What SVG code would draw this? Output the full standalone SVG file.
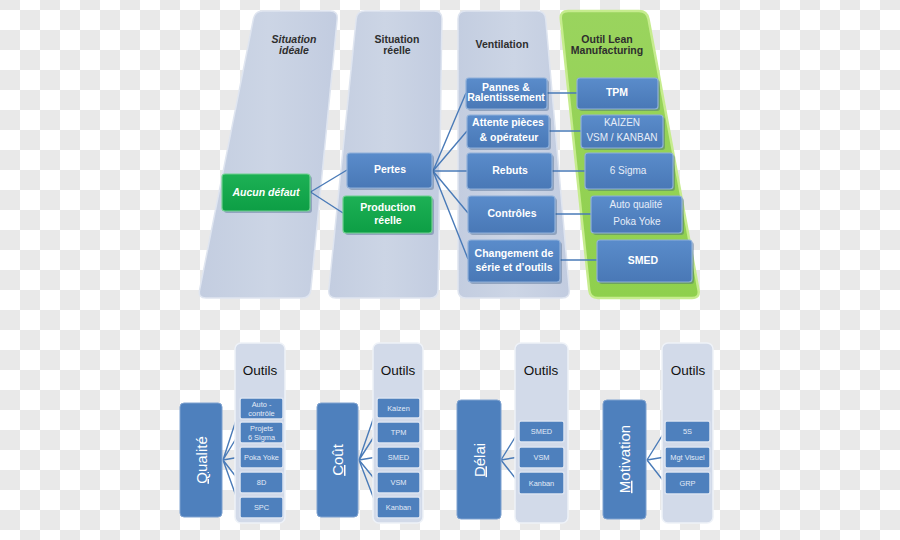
<svg xmlns="http://www.w3.org/2000/svg" width="900" height="540" viewBox="0 0 900 540">
<defs>
<pattern id="chk" patternUnits="userSpaceOnUse" x="0" y="10" width="40" height="40">
<rect width="40" height="40" fill="#ffffff"/>
<rect x="20" y="0" width="20" height="20" fill="#e9e9e9"/>
<rect x="0" y="20" width="20" height="20" fill="#e9e9e9"/>
</pattern>
<linearGradient id="colG" x1="0" y1="0" x2="1" y2="0">
<stop offset="0" stop-color="#c3cde0"/>
<stop offset="0.5" stop-color="#ccd5e5"/>
<stop offset="1" stop-color="#c2cce0"/>
</linearGradient>
<linearGradient id="greenCol" x1="0" y1="0" x2="0" y2="1">
<stop offset="0" stop-color="#9ad45e"/>
<stop offset="1" stop-color="#8fd04d"/>
</linearGradient>
<linearGradient id="blueBox" x1="0" y1="0" x2="0" y2="1">
<stop offset="0" stop-color="#5a8ccb"/>
<stop offset="1" stop-color="#4978b6"/>
</linearGradient>
<linearGradient id="greenBox" x1="0" y1="0" x2="0" y2="1">
<stop offset="0" stop-color="#1db155"/>
<stop offset="1" stop-color="#0d9e45"/>
</linearGradient>
</defs>
<style>
.col{fill:url(#colG);stroke:#dfe5f0;stroke-width:1.5}
.gcol{fill:url(#greenCol);stroke:#c6ec8e;stroke-width:2.5}
.ttl{font-family:"Liberation Sans",Arial,sans-serif;font-weight:bold;font-size:10.5px;fill:#2e2e2e;text-anchor:middle}
.bb{fill:url(#blueBox);stroke:#8fb0da;stroke-width:1.2}
.gb{fill:url(#greenBox);stroke:#6fd08f;stroke-width:1.2}
.sh{fill:#2f4f7a;opacity:0.35}
.bt{font-family:"Liberation Sans",Arial,sans-serif;font-weight:bold;font-size:10.5px;fill:#ffffff;text-anchor:middle}
.lt{font-family:"Liberation Sans",Arial,sans-serif;font-size:10px;fill:#e6edf8;text-anchor:middle}
.cn{stroke:#4a7bb8;stroke-width:1.4;fill:none}
.ocol{fill:#d2dae9;stroke:#eef2f8;stroke-width:1.5}
.tall{fill:#4e80bd;stroke:#7fa2d0;stroke-width:1}
.sb{fill:#4e80bd;stroke:#dce4f1;stroke-width:1.5}
.st{font-family:"Liberation Sans",Arial,sans-serif;font-size:7.4px;fill:#e3ebf7;text-anchor:middle}
.ot{font-family:"Liberation Sans",Arial,sans-serif;font-size:13.5px;fill:#111111;text-anchor:middle}
.rt{font-family:"Liberation Sans",Arial,sans-serif;font-size:15px;fill:#ffffff;text-anchor:middle}
</style>
<rect width="900" height="540" fill="url(#chk)"/>

<g id="columns">
<path id="col-ideale" class="col" d="M263,11 L330,11 Q338,11 337.2,19 L310.8,290 Q310,298 302,298 L206,298 Q198,298 199.6,290 L253.4,19 Q255,11 263,11 Z"/>
<path id="col-reelle" class="col" d="M365,11 L434,11 Q442,11 441.9,19 L438.1,290 Q438,298 430,298 L336,298 Q328,298 328.8,290 L356.2,19 Q357,11 365,11 Z"/>
<path id="col-vent" class="col" d="M466,11 L537,11 Q545,11 545.7,19 L569.3,290 Q570,298 562,298 L466,298 Q458,298 458,290 L458,19 Q458,11 466,11 Z"/>
<path id="col-lean" class="gcol" d="M568,11 L639,11 Q647,11 648.5,19 L698.5,290 Q700,298 692,298 L598,298 Q590,298 589.2,290 L560.8,19 Q560,11 568,11 Z"/>
<text class="ttl" x="294" y="43" font-style="italic">Situation</text>
<text class="ttl" x="294" y="54" font-style="italic">idéale</text>
<text class="ttl" x="397" y="43">Situation</text>
<text class="ttl" x="397" y="54">réelle</text>
<text class="ttl" x="502" y="48">Ventilation</text>
<text class="ttl" x="607" y="43">Outil Lean</text>
<text class="ttl" x="607" y="54">Manufacturing</text>
</g>

<g id="connectors">
<path class="cn" d="M310.5,192 L347,170 M310.5,192 L343,213"/>
<path class="cn" d="M433,171 L466,93 M433,171 L467,131 M433,171 L467,171 M433,171 L468,213 M433,171 L468,259"/>
<path class="cn" d="M547,93 L577,93 M549,131 L581,131 M552,171 L585,171 M555,214 L591,214 M560,260 L597,260"/>
<path class="cn" d="M223,460 L240,408 M223,460 L240,432 M223,460 L240,457 M223,460 L240,482 M223,460 L240,507"/>
<path class="cn" d="M359,460 L377,408 M359,460 L377,432 M359,460 L377,457 M359,460 L377,482 M359,460 L377,507"/>
<path class="cn" d="M501,460 L519,431 M501,460 L519,457 M501,460 L519,483"/>
<path class="cn" d="M647,460 L665,431 M647,460 L665,457 M647,460 L665,483"/>
</g>

<g id="aucun-defaut">
<rect class="sh" x="224" y="176" width="88" height="37" rx="3"/>
<rect class="gb" x="222" y="174" width="88" height="37" rx="3"/>
<text class="bt" x="266" y="195.5" font-style="italic" font-size="11">Aucun défaut</text>
</g>
<g id="pertes">
<rect class="sh" x="349" y="155" width="85" height="35" rx="3"/>
<rect class="bb" x="347" y="153" width="85" height="35" rx="3"/>
<text class="bt" x="390" y="173">Pertes</text>
</g>
<g id="production-reelle">
<rect class="sh" x="345" y="198" width="89" height="37" rx="3"/>
<rect class="gb" x="343" y="196" width="89" height="37" rx="3"/>
<text class="bt" x="388" y="210.5" font-size="11">Production</text>
<text class="bt" x="388" y="223.5" font-size="11">réelle</text>
</g>

<g id="pannes">
<rect class="sh" x="468" y="80" width="81" height="31" rx="3"/>
<rect class="bb" x="466" y="78" width="81" height="31" rx="3"/>
<text class="bt" x="506" y="90.5" font-size="9.8">Pannes &amp;</text>
<text class="bt" x="506" y="101" font-size="9.8">Ralentissement</text>
</g>
<g id="attente">
<rect class="sh" x="469" y="117" width="82" height="33" rx="3"/>
<rect class="bb" x="467" y="115" width="82" height="33" rx="3"/>
<text class="bt" x="508" y="126" font-size="10">Attente pièces</text>
<text class="bt" x="509" y="140.5" font-size="10">&amp; opérateur</text>
</g>
<g id="rebuts">
<rect class="sh" x="469" y="155" width="85" height="36" rx="3"/>
<rect class="bb" x="467" y="153" width="85" height="36" rx="3"/>
<text class="bt" x="510" y="173.5">Rebuts</text>
</g>
<g id="controles">
<rect class="sh" x="470" y="198" width="87" height="37" rx="3"/>
<rect class="bb" x="468" y="196" width="87" height="37" rx="3"/>
<text class="bt" x="512" y="216.5" font-size="11">Contrôles</text>
</g>
<g id="changement">
<rect class="sh" x="470" y="242" width="92" height="42" rx="3"/>
<rect class="bb" x="468" y="240" width="92" height="42" rx="3"/>
<text class="bt" x="514" y="256.5" font-size="11">Changement de</text>
<text class="bt" x="514" y="270.5" font-size="11">série et d’outils</text>
</g>

<g id="tpm">
<rect class="sh" x="579" y="80" width="81" height="31" rx="3"/>
<rect class="bb" x="577" y="78" width="81" height="31" rx="3"/>
<text class="bt" x="617" y="96" font-size="10">TPM</text>
</g>
<g id="kaizen">
<rect class="sh" x="583" y="117" width="82" height="33" rx="3"/>
<rect class="bb" x="581" y="115" width="82" height="33" rx="3"/>
<text class="lt" x="622" y="125.5">KAIZEN</text>
<text class="lt" x="622" y="140.5">VSM / KANBAN</text>
</g>
<g id="sigma">
<rect class="sh" x="587" y="155" width="88" height="36" rx="3"/>
<rect class="bb" x="585" y="153" width="88" height="36" rx="3"/>
<text class="lt" x="628" y="173.5">6 Sigma</text>
</g>
<g id="autoqualite">
<rect class="sh" x="593" y="198" width="91" height="37" rx="3"/>
<rect class="bb" x="591" y="196" width="91" height="37" rx="3"/>
<text class="lt" x="636" y="208">Auto qualité</text>
<text class="lt" x="637" y="224.5">Poka Yoke</text>
</g>
<g id="smed">
<rect class="sh" x="599" y="242" width="95" height="42" rx="3"/>
<rect class="bb" x="597" y="240" width="95" height="42" rx="3"/>
<text class="bt" x="643" y="263.5" font-size="10.5">SMED</text>
</g>

<g id="qualite-panel">
<rect class="ocol" x="235" y="343" width="50" height="180" rx="6"/>
<text class="ot" x="260" y="375">Outils</text>
<rect class="tall" x="180" y="403" width="42" height="114" rx="4"/>
<text class="rt" transform="translate(201,460) rotate(-90)" x="0" y="5.5"><tspan text-decoration="underline">Q</tspan>ualité</text>
<rect class="sb" x="240" y="398" width="43" height="21" rx="2"/>
<text class="st" x="261.5" y="406.5">Auto -</text>
<text class="st" x="261.5" y="415.5">contrôle</text>
<rect class="sb" x="240" y="422" width="43" height="21" rx="2"/>
<text class="st" x="261.5" y="430.5">Projets</text>
<text class="st" x="261.5" y="439.5">6 Sigma</text>
<rect class="sb" x="240" y="447" width="43" height="21" rx="2"/>
<text class="st" x="261.5" y="460">Poka Yoke</text>
<rect class="sb" x="240" y="472" width="43" height="21" rx="2"/>
<text class="st" x="261.5" y="485">8D</text>
<rect class="sb" x="240" y="497" width="43" height="21" rx="2"/>
<text class="st" x="261.5" y="510">SPC</text>
</g>

<g id="cout-panel">
<rect class="ocol" x="373" y="343" width="50" height="180" rx="6"/>
<text class="ot" x="398" y="375">Outils</text>
<rect class="tall" x="317" y="403" width="41" height="114" rx="4"/>
<text class="rt" transform="translate(337.5,460) rotate(-90)" x="0" y="5.5"><tspan text-decoration="underline">C</tspan>oût</text>
<rect class="sb" x="377" y="398" width="43" height="20" rx="2"/>
<text class="st" x="398.5" y="410.5">Kaizen</text>
<rect class="sb" x="377" y="422" width="43" height="21" rx="2"/>
<text class="st" x="398.5" y="435">TPM</text>
<rect class="sb" x="377" y="447" width="43" height="21" rx="2"/>
<text class="st" x="398.5" y="460">SMED</text>
<rect class="sb" x="377" y="472" width="43" height="21" rx="2"/>
<text class="st" x="398.5" y="485">VSM</text>
<rect class="sb" x="377" y="497" width="43" height="21" rx="2"/>
<text class="st" x="398.5" y="510">Kanban</text>
</g>

<g id="delai-panel">
<rect class="ocol" x="515" y="343" width="53" height="180" rx="6"/>
<text class="ot" x="541" y="375">Outils</text>
<rect class="tall" x="457" y="400" width="44" height="119" rx="4"/>
<text class="rt" transform="translate(479,460) rotate(-90)" x="0" y="5.5"><tspan text-decoration="underline">D</tspan>élai</text>
<rect class="sb" x="519" y="421" width="45" height="21" rx="2"/>
<text class="st" x="541.5" y="434">SMED</text>
<rect class="sb" x="519" y="447" width="45" height="21" rx="2"/>
<text class="st" x="541.5" y="460">VSM</text>
<rect class="sb" x="519" y="472" width="45" height="22" rx="2"/>
<text class="st" x="541.5" y="485.5">Kanban</text>
</g>

<g id="motivation-panel">
<rect class="ocol" x="662" y="343" width="51" height="180" rx="6"/>
<text class="ot" x="688" y="375">Outils</text>
<rect class="tall" x="603" y="400" width="43" height="119" rx="4"/>
<text class="rt" transform="translate(624.5,459) rotate(-90)" x="0" y="5.5"><tspan text-decoration="underline">M</tspan>otivation</text>
<rect class="sb" x="665" y="421" width="45" height="21" rx="2"/>
<text class="st" x="687.5" y="434">5S</text>
<rect class="sb" x="665" y="447" width="45" height="21" rx="2"/>
<text class="st" x="687.5" y="460">Mgt Visuel</text>
<rect class="sb" x="665" y="472" width="45" height="22" rx="2"/>
<text class="st" x="687.5" y="485.5">GRP</text>
</g>
</svg>
